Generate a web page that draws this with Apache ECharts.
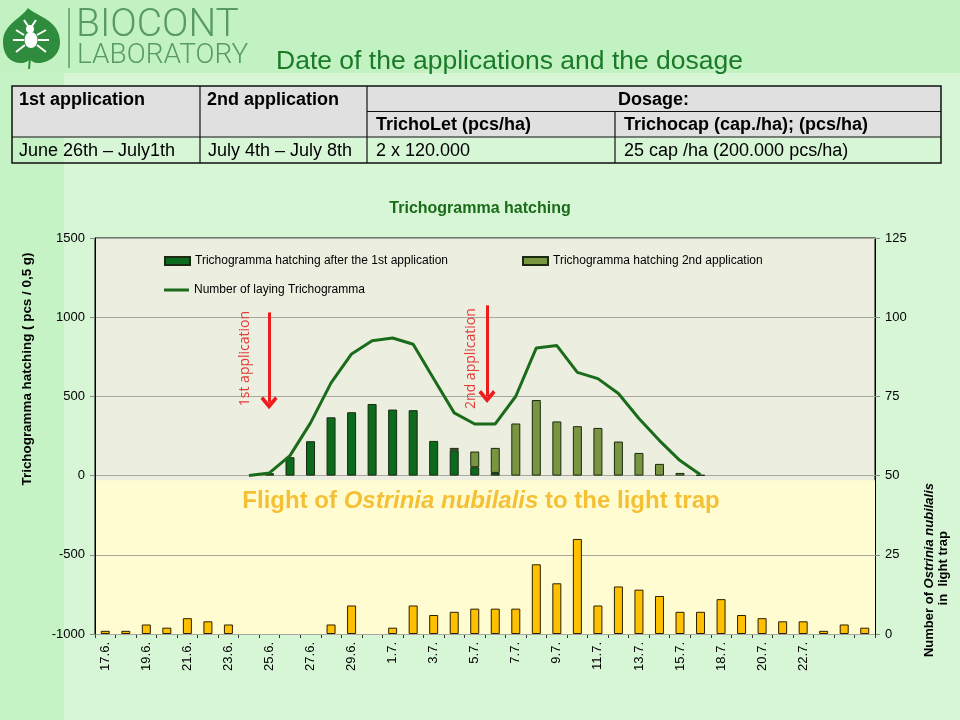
<!DOCTYPE html>
<html>
<head>
<meta charset="utf-8">
<script src="https://cdn.jsdelivr.net/npm/echarts/dist/echarts.min.js"></script>
<style>
  html, body { margin: 0; padding: 0; background: #d6f6d6; }
  #main { width: 960px; height: 720px; }
</style>
</head>
<body>
<div id="main"></div>
<script>
// dates of the observations (x axis)
const categories = ['17.6.', '18.6.', '19.6.', '20.6.', '21.6.', '22.6.', '23.6.', '24.6.', '25.6.', '26.6.',
  '27.6.', '28.6.', '29.6.', '30.6.', '1.7.', '2.7.', '3.7.', '4.7.', '5.7.', '6.7.',
  '7.7.', '8.7.', '9.7.', '10.7.', '11.7.', '12.7.', '13.7.', '14.7.', '15.7.', '16.7.',
  '18.7.', '19.7.', '20.7.', '21.7.', '22.7.', '23.7.', '24.7.', '25.7.']
const lastLabelIndex = 34

// Trichogramma hatching after the 1st application (pcs / 0,5 g)
const hatch1 = [null, null, null, null, null, null, null, null, 15, 116,
  217, 368, 400, 452, 417, 413, 219, 160, 53, 17,
  null, null, null, null, null, null, null, null, null, null,
  null, null, null, null, null, null, null, null]
// Trichogramma hatching 2nd application (pcs / 0,5 g)
const hatch2 = [null, null, null, null, null, null, null, null, null, null,
  null, null, null, null, null, null, null, 15, 99, 158,
  329, 477, 342, 312, 301, 215, 143, 74, 17, 4,
  null, null, null, null, null, null, null, null]
// Number of laying Trichogramma
const laying = [null, null, null, null, null, null, null, 0, 17, 126,
  333, 585, 768, 852, 869, 829, 612, 396, 326, 326,
  501, 806, 821, 652, 612, 518, 360, 221, 95, 5,
  null, null, null, null, null, null, null, null]
// Number of Ostrinia nubilalis in light trap (right axis)
const flight = [1, 1, 3, 2, 5, 4, 3, null, null, null,
  null, 3, 9, null, 2, 9, 6, 7, 8, 8,
  8, 22, 16, 30, 9, 15, 14, 12, 7, 7,
  11, 6, 5, 4, 4, 1, 3, 2]

// application arrows: [position on the day scale, top value, bottom value]
const arrows = [[8.48, 1030, 460], [19.1, 1075, 500]]
const arrowTexts = [['1st application', 7.31, 739], ['2nd application', 18.32, 739]]

const font = "'Liberation Sans', Arial, sans-serif"
const textCol = '#000'

const logoSvg = '<svg xmlns="http://www.w3.org/2000/svg" width="64" height="72" viewBox="0 0 64 72">' +
  '<path d="M28,8 C36,16 60,20 60,42 C60,56 48,63 38,63 C34,63 31,61 30,59 C29,61 25,63 21,63 C10,63 3,55 3,42 C3,24 22,18 28,8 Z" fill="#2e8c3c"/>' +
  '<line x1="30" y1="58" x2="29" y2="69" stroke="#2e8c3c" stroke-width="2"/>' +
  '<ellipse cx="31" cy="40" rx="6.5" ry="8" fill="#fff"/><circle cx="30" cy="29" r="4" fill="#fff"/>' +
  '<g stroke="#fff" stroke-width="2" fill="none">' +
  '<path d="M24,35 L16,30 M24,40 L13,40 M25,45 L16,52 M37,35 L46,30 M38,40 L49,40 M37,45 L46,52 M28,26 L24,20 M32,26 L36,20"/></g></svg>'

let myChart = echarts.init(document.getElementById('main'))

let graphic = [
  { type: 'rect', shape: { x: 0, y: 0, width: 960, height: 73 }, style: { fill: '#c2f2c2' }, z: -10 },
  { type: 'rect', shape: { x: 0, y: 73, width: 64, height: 647 }, style: { fill: '#c6f3c6' }, z: -10 },
  // logo
  { type: 'image', x: 0, y: 0, style: { image: 'data:image/svg+xml;charset=utf-8,' + encodeURIComponent(logoSvg), width: 64, height: 72 } },
  { type: 'line', shape: { x1: 69, y1: 8, x2: 69, y2: 68 }, style: { stroke: '#5a9a62', lineWidth: 1.5 } },
  { type: 'text', x: 76, y: 26, style: { text: 'BIOCONT', font: "300 39px Roboto, sans-serif", fill: '#589a62', verticalAlign: 'middle' } },
  { type: 'text', x: 77, y: 56, style: { text: 'LABORATORY', font: "300 28px Roboto, sans-serif", fill: '#589a62', verticalAlign: 'middle' } },
  { type: 'text', x: 276, y: 62, style: { text: 'Date of the applications and the dosage', font: '26.5px ' + font, fill: '#1a7a28', verticalAlign: 'middle' } },
  // table
  { type: 'rect', shape: { x: 12, y: 86, width: 929, height: 51 }, style: { fill: '#e0e0e0' } },
  { type: 'rect', shape: { x: 12, y: 86, width: 929, height: 77 }, style: { fill: 'none', stroke: '#111', lineWidth: 1.5 } },
  { type: 'line', shape: { x1: 367, y1: 111.5, x2: 941, y2: 111.5 }, style: { stroke: '#111', lineWidth: 1.2 } },
  { type: 'line', shape: { x1: 12, y1: 137, x2: 941, y2: 137 }, style: { stroke: '#111', lineWidth: 1.2 } },
  { type: 'line', shape: { x1: 200, y1: 86, x2: 200, y2: 163 }, style: { stroke: '#111', lineWidth: 1.2 } },
  { type: 'line', shape: { x1: 367, y1: 86, x2: 367, y2: 163 }, style: { stroke: '#111', lineWidth: 1.2 } },
  { type: 'line', shape: { x1: 615, y1: 111.5, x2: 615, y2: 163 }, style: { stroke: '#111', lineWidth: 1.2 } }
]

const tableTexts = [
  ['1st application', 19, 100, true], ['2nd application', 207, 100, true], ['Dosage:', 618, 100, true],
  ['TrichoLet (pcs/ha)', 376, 125.5, true], ['Trichocap (cap./ha); (pcs/ha)', 624, 125.5, true],
  ['June 26th \u2013 July1th', 19, 151, false], ['July 4th \u2013 July 8th', 208, 151, false],
  ['2 x 120.000', 376, 151, false], ['25 cap /ha (200.000 pcs/ha)', 624, 151, false]
]
tableTexts.forEach(function (t) {
  graphic.push({ type: 'text', x: t[1], y: t[2], style: { text: t[0], font: (t[3] ? 'bold ' : '') + '18px ' + font, fill: textCol, verticalAlign: 'middle' } })
})

graphic.push(
  { type: 'text', x: 27, y: 369, rotation: Math.PI / 2, style: { text: 'Trichogramma hatching ( pcs / 0,5 g)', font: 'bold 13.4px ' + font, fill: textCol, align: 'center', verticalAlign: 'middle' } },
  { type: 'text', x: 936, y: 570, rotation: Math.PI / 2, style: {
    text: '{b|Number of }{bi|Ostrinia nubilalis}\n{b| in  light trap}', align: 'center', verticalAlign: 'middle',
    rich: { b: { font: 'bold 13px ' + font, fill: textCol, lineHeight: 14 }, bi: { font: 'italic bold 13px ' + font, fill: textCol, lineHeight: 14 } }
  } },
  { type: 'text', x: 481, y: 501, z: 100, style: {
    text: '{t|Flight of }{ti|Ostrinia nubilalis}{t| to the light trap}', align: 'center', verticalAlign: 'middle',
    rich: { t: { font: 'bold 24px ' + font, fill: '#f4c136' }, ti: { font: 'italic bold 24px ' + font, fill: '#f4c136' } }
  } }
)

const legendText = { fontSize: 12, color: textCol, fontFamily: font }

myChart.setOption({
  animation: false,
  backgroundColor: '#d6f6d6',
  title: {
    text: 'Trichogramma hatching',
    left: 'center',
    top: 196,
    textStyle: { fontSize: 16, fontWeight: 'bold', color: '#1a6b1a', fontFamily: font }
  },
  legend: [
    { data: ['Trichogramma hatching after the 1st application'], left: 164, top: 255, padding: 0, icon: 'rect', itemWidth: 25, itemHeight: 8, textStyle: legendText },
    { data: ['Trichogramma hatching 2nd application'], left: 522, top: 255, padding: 0, icon: 'rect', itemWidth: 25, itemHeight: 8, textStyle: legendText },
    { data: ['Number of laying Trichogramma'], left: 164, top: 284, padding: 0, icon: 'rect', itemWidth: 25, itemHeight: 3, textStyle: legendText }
  ],
  grid: {
    left: 95, right: 85, top: 238, bottom: 86,
    show: true, backgroundColor: '#ecefe0', borderColor: '#000', borderWidth: 1
  },
  xAxis: [
    {
      type: 'category',
      data: categories,
      axisLine: { onZero: false, lineStyle: { color: '#000' } },
      axisTick: { show: true, interval: 0, length: 4, lineStyle: { color: '#333' } },
      axisLabel: {
        rotate: 90, margin: 8, fontSize: 13, color: textCol, fontFamily: font,
        interval: function (index) { return index % 2 === 0 && index <= lastLabelIndex }
      }
    },
    { type: 'value', min: 0, max: categories.length, show: false }
  ],
  yAxis: [
    {
      type: 'value', min: -1000, max: 1500, interval: 500, z: 1.5,
      axisLine: { show: true, lineStyle: { color: '#000' } },
      axisTick: { show: true, length: 5, lineStyle: { color: '#888' } },
      axisLabel: { fontSize: 13, color: textCol, margin: 10, fontFamily: font, formatter: function (v) { return String(v) } },
      splitLine: { lineStyle: { color: '#a8a8a0' } }
    },
    {
      type: 'value', min: 0, max: 125, interval: 25, position: 'right',
      axisLine: { show: true, lineStyle: { color: '#000' } },
      axisTick: { show: true, length: 5, lineStyle: { color: '#888' } },
      axisLabel: { fontSize: 13, color: textCol, margin: 10, fontFamily: font },
      splitLine: { show: false }
    }
  ],
  series: [
    {
      name: 'Trichogramma hatching after the 1st application',
      type: 'bar', stack: 'hatch', data: hatch1, barWidth: 9,
      itemStyle: { color: '#0b6a1c', borderColor: '#1a2a10', borderWidth: 1 }
    },
    {
      name: 'Trichogramma hatching 2nd application',
      type: 'bar', stack: 'hatch', data: hatch2, barWidth: 9,
      itemStyle: { color: '#7a953f', borderColor: '#1a2a10', borderWidth: 1 }
    },
    {
      name: 'Number of Ostrinia nubilalis in light trap',
      type: 'bar', yAxisIndex: 1, data: flight, barWidth: 9, barGap: '-100%',
      itemStyle: { color: '#ffc000', borderColor: '#2a2000', borderWidth: 1 },
      markArea: {
        silent: true,
        itemStyle: { color: '#fffcd2' },
        data: [[{ yAxis: 0 }, { yAxis: 48.5 }]]
      }
    },
    {
      name: 'Number of laying Trichogramma',
      type: 'line', data: laying, symbol: 'none', z: 4,
      lineStyle: { color: '#1a6b1a', width: 3 },
      itemStyle: { color: '#1a6b1a' }
    },
    {
      name: 'applications',
      type: 'line', xAxisIndex: 1, yAxisIndex: 0, data: [], z: 5,
      markLine: {
        silent: true,
        symbol: ['none', 'path://M8,0 L16,9 L13.6,11.5 L8,5 L2.4,11.5 L0,9 Z'],
        symbolSize: [17, 13],
        lineStyle: { color: '#ee1c1c', width: 3, type: 'solid' },
        label: { show: false },
        data: arrows.map(function (a) { return [{ coord: [a[0], a[1]] }, { coord: [a[0], a[2]] }] })
      },
      markPoint: {
        silent: true,
        symbol: 'circle', symbolSize: 0,
        label: { show: true, rotate: 90, position: 'inside', formatter: '{b}', color: '#e33a3a', fontSize: 14, fontFamily: "'Open Sans', sans-serif" },
        data: arrowTexts.map(function (t) { return { name: t[0], coord: [t[1], t[2]] } })
      }
    }
  ],
  graphic: graphic
})
</script>
</body>
</html>
